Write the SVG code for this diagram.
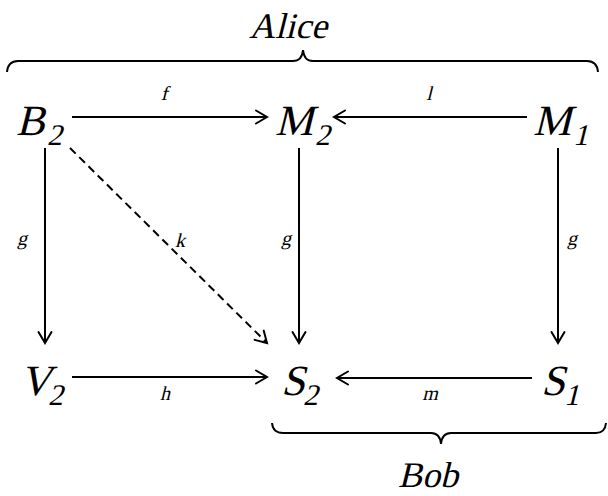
<svg xmlns="http://www.w3.org/2000/svg" width="608" height="496" viewBox="0 0 608 496">
<style>
.t{font-family:'Liberation Serif','DejaVu Serif','Times New Roman',serif;fill:#000}
.n{font-size:43px}
.s{font-size:30px}
.lb{font-size:20px;text-anchor:middle}
.ti{font-size:36px;text-anchor:middle}
.c{stroke:#000;stroke-width:2;fill:none}
.d{stroke-dasharray:8 5}
.br{stroke:#000;stroke-width:2;fill:none}
</style>
<defs>
<marker id="ah" markerUnits="userSpaceOnUse" markerWidth="16" markerHeight="16" viewBox="-13 -8 16 16" refX="0" refY="0" orient="auto">
<path d="M-11,-6.5 L0,0 L-11,6.5" fill="none" stroke="#000" stroke-width="2" stroke-linecap="round" stroke-linejoin="miter"/>
</marker>
</defs>
<rect width="608" height="496" fill="#fff"/>
<g font-family="Liberation Serif, DejaVu Serif, serif">
<g id="alice">
<path class="br" d="M7,72 Q8,61 18,61 L293,61 Q302,61 303,50 Q304,61 313,61 L587,61 Q597,61 598,72"/>
<text class="t ti" transform="translate(288,38) skewX(-14)">Alice</text>
</g>
<g id="bob">
<path class="br" d="M272,423 Q273,433 283,433 L431,433 Q440,433 441,444 Q442,433 451,433 L596,433 Q605,433 606,423"/>
<text class="t ti" transform="translate(428,487) skewX(-14)">Bob</text>
</g>
<g id="B2"><text class="t n" transform="translate(16,135) skewX(-14)">B</text><text class="t s" transform="translate(47,145) skewX(-14)">2</text></g>
<g id="M2"><text class="t n" transform="translate(275,135) skewX(-14)">M</text><text class="t s" transform="translate(315,145) skewX(-14)">2</text></g>
<g id="M1"><text class="t n" transform="translate(533,135) skewX(-14)">M</text><text class="t s" transform="translate(573,145) skewX(-14)">1</text></g>
<g id="V2"><text class="t n" transform="translate(20,395) skewX(-14)">V</text><text class="t s" transform="translate(48,405) skewX(-14)">2</text></g>
<g id="S2"><text class="t n" transform="translate(281,395) skewX(-14)">S</text><text class="t s" transform="translate(303,405) skewX(-14)">2</text></g>
<g id="S1"><text class="t n" transform="translate(541,395) skewX(-14)">S</text><text class="t s" transform="translate(564,405) skewX(-14)">1</text></g>
<g id="connectors">
<line class="c" x1="72" y1="117" x2="267" y2="117" marker-end="url(#ah)"/>
<line class="c" x1="527" y1="117" x2="334" y2="117" marker-end="url(#ah)"/>
<line class="c" x1="45" y1="148" x2="45" y2="343" marker-end="url(#ah)"/>
<line class="c" x1="299" y1="148" x2="299" y2="343" marker-end="url(#ah)"/>
<line class="c" x1="558" y1="148" x2="558" y2="343" marker-end="url(#ah)"/>
<line class="c d" x1="70" y1="148" x2="267" y2="343" marker-end="url(#ah)"/>
<line class="c" x1="72" y1="377" x2="267" y2="377" marker-end="url(#ah)"/>
<line class="c" x1="532" y1="378" x2="337" y2="378" marker-end="url(#ah)"/>
<text class="t lb" transform="translate(164,100) skewX(-14)">f</text>
<text class="t lb" transform="translate(429,100) skewX(-14)">l</text>
<text class="t lb" transform="translate(22,245) skewX(-14)">g</text>
<text class="t lb" transform="translate(286,245) skewX(-14)">g</text>
<text class="t lb" transform="translate(572,245) skewX(-14)">g</text>
<text class="t lb" transform="translate(180,247) skewX(-14)">k</text>
<text class="t lb" transform="translate(165,400) skewX(-14)">h</text>
<text class="t lb" transform="translate(430,400) skewX(-14)">m</text>
</g>
</g>
</svg>
